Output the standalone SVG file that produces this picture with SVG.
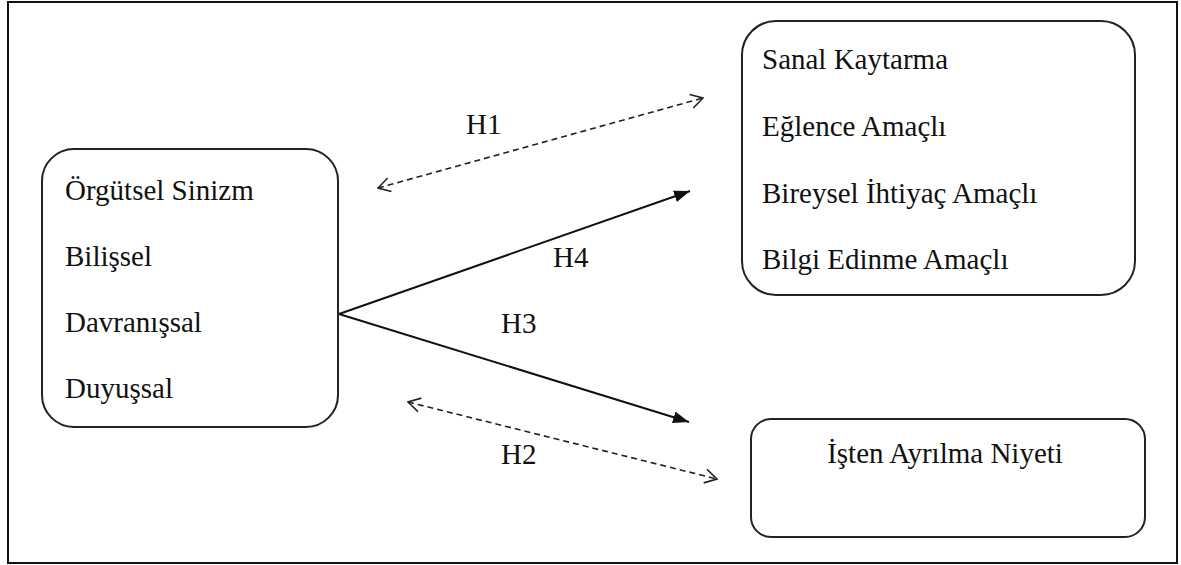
<svg xmlns="http://www.w3.org/2000/svg" width="1181" height="565" viewBox="0 0 1181 565">
<style>
.box{fill:#fff;stroke:#222;stroke-width:2}
text{font-family:'Liberation Serif','Tinos','Times New Roman','Times','Nimbus Roman','Nimbus Roman No9 L','FreeSerif','Noto Serif','DejaVu Serif','Georgia',serif;font-size:29px;fill:#111}
.solid{stroke:#111;stroke-width:2;fill:none}
.dash{stroke:#222;stroke-width:1.6;fill:none;stroke-dasharray:6 4}
</style>
<defs>
<marker id="fill" markerUnits="userSpaceOnUse" viewBox="0 0 16 12" refX="16" refY="6" markerWidth="16" markerHeight="12" orient="auto">
<path d="M0,0 L16,6 L0,12 Z" fill="#111"/>
</marker>
<marker id="open" markerUnits="userSpaceOnUse" viewBox="0 0 14 16" refX="13" refY="8" markerWidth="14" markerHeight="16" orient="auto-start-reverse">
<path d="M1,1 L13,8 L1,15" fill="none" stroke="#222" stroke-width="1.6"/>
</marker>
</defs>
<rect x="8" y="2" width="1169" height="561" fill="#fff" stroke="#111" stroke-width="2"/>
<g id="connectors">
<line class="dash" x1="378" y1="188" x2="703" y2="98" marker-start="url(#open)" marker-end="url(#open)"/>
<line class="solid" x1="339" y1="314" x2="690" y2="191" marker-end="url(#fill)"/>
<line class="solid" x1="339" y1="314" x2="689" y2="422" marker-end="url(#fill)"/>
<line class="dash" x1="408" y1="402" x2="717" y2="479" marker-start="url(#open)" marker-end="url(#open)"/>
<text x="466" y="134">H1</text>
<text x="553" y="267">H4</text>
<text x="501" y="333">H3</text>
<text x="501" y="464">H2</text>
</g>
<g id="sinizm">
<rect class="box" x="42" y="149" width="296" height="278" rx="32"/>
<text x="65" y="200">Örgütsel Sinizm</text>
<text x="65" y="266">Bilişsel</text>
<text x="65" y="332">Davranışsal</text>
<text x="65" y="398">Duyuşsal</text>
</g>
<g id="kaytarma">
<rect class="box" x="742" y="21" width="393" height="274" rx="34"/>
<text x="762" y="69">Sanal Kaytarma</text>
<text x="762" y="136">Eğlence Amaçlı</text>
<text x="762" y="203">Bireysel İhtiyaç Amaçlı</text>
<text x="762" y="269">Bilgi Edinme Amaçlı</text>
</g>
<g id="ayrilma">
<rect class="box" x="751" y="419" width="394" height="118" rx="20"/>
<text x="945" y="463" text-anchor="middle">İşten Ayrılma Niyeti</text>
</g>
</svg>
